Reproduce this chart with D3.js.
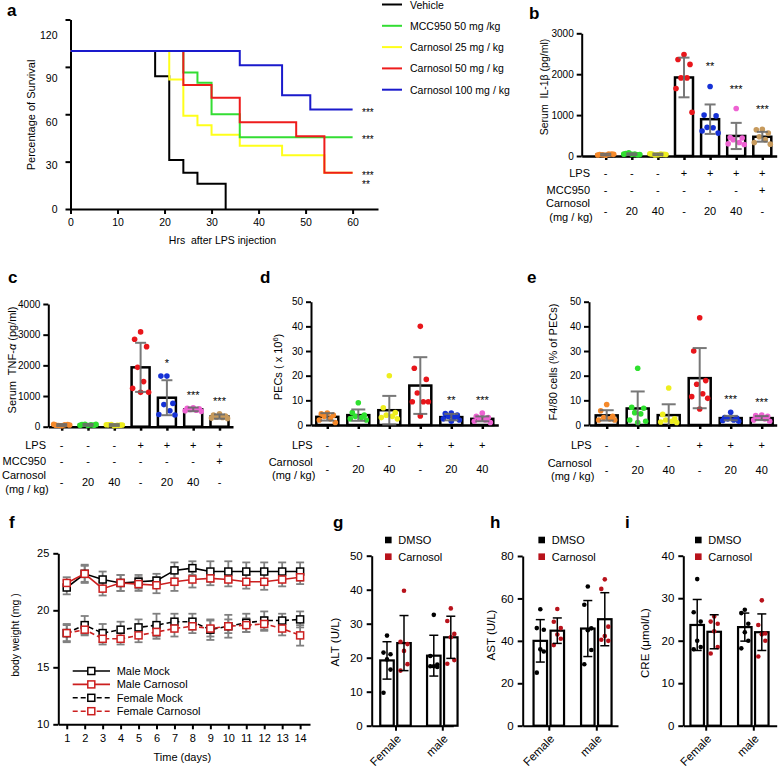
<!DOCTYPE html>
<html>
<head>
<meta charset="utf-8">
<script src="https://cdn.jsdelivr.net/npm/d3@7"></script>
<style>
  body { margin: 0; background: #fff; }
  svg { display: block; font-family: Arial, "Liberation Sans", Helvetica, sans-serif; }
  text { white-space: pre; fill: #000; }
</style>
</head>
<body>
<svg id="fig" width="778" height="772"></svg>
<script>
// ---------- panel a : survival ----------
var aNames = ["Vehicle", "MCC950 50 mg /kg", "Carnosol 25 mg / kg", "Carnosol 50 mg / kg", "Carnosol 100 mg / kg"];
var aColors = ["#000000", "#33dd33", "#ffff1a", "#ee1c1c", "#1a1acc"];
var aTimes = [
  [0, 18, 21, 24, 27, 33],
  [0, 24, 27, 30, 36, 60],
  [0, 21, 24, 27, 30, 36, 45, 54, 60],
  [0, 24, 30, 36, 48, 54, 60],
  [0, 36, 45, 51, 60]
];
var aSurvival = [
  [100, 84, 31, 23, 16, 0],
  [100, 86.5, 80, 60, 45.5, 45.5],
  [100, 82, 59, 53, 47, 40, 34, 23, 23],
  [100, 78.5, 70.5, 55, 46, 23, 23],
  [100, 91, 72, 63, 63]
];
var aStars = ["", "***", "**", "***", "***"];
var aTicksX = [0, 10, 20, 30, 40, 50, 60];
var aTicksY = [0, 30, 60, 90, 120];

// ---------- panels b-e : bars with dots ----------
var groupColors = ["#f5892a", "#2fe02f", "#eeee1e", "#e8161b", "#1531d6", "#ee62d2", "#c79a5c"];

var bMeans = [35, 45, 40, 1920, 900, 490, 470];
var bSd = [20, 20, 20, 485, 360, 320, 120];
var bPoints = [
  [20, 35, 50, 30, 45, 25, 40],
  [40, 60, 30, 80, 50, 45, 35],
  [30, 50, 40, 25, 45, 55, 35],
  [2480, 2360, 2240, 1910, 1910, 1650, 1070],
  [1700, 1000, 980, 700, 690, 610, 560],
  [1160, 450, 440, 400, 330, 300, 280],
  [650, 640, 560, 470, 400, 330, 290]
];
var bStars = ["", "", "", "", "**", "***", "***"];
var bTicks = [0, 1000, 2000, 3000];

var cMeans = [55, 60, 55, 1935, 945, 565, 330];
var cSd = [30, 30, 30, 800, 570, 60, 70];
var cPoints = [
  [30, 50, 70, 40, 60, 80, 55],
  [40, 70, 50, 80, 60, 45, 75],
  [30, 60, 50, 70, 45, 65, 55],
  [3090, 2850, 2610, 1935, 1470, 1250, 1120, 1120],
  [1650, 1650, 760, 720, 520, 400, 380],
  [620, 600, 580, 560, 540, 520, 500],
  [420, 380, 350, 320, 300, 280, 270]
];
var cStars = ["", "", "", "", "*", "***", "***"];
var cTicks = [0, 1000, 2000, 3000, 4000];

var rowLPS7 = ["-", "-", "-", "+", "+", "+", "+"];
var rowMCC7 = ["-", "-", "-", "-", "-", "-", "+"];
var rowCarn7 = ["-", "20", "40", "-", "20", "40", "-"];

var dMeans = [3.3, 4.0, 6.0, 16.0, 3.2, 2.5];
var dSd = [1.5, 2.3, 5.8, 11.5, 1.3, 1.0];
var dPoints = [
  [4.8, 4.5, 4, 3.5, 2.5, 2, 1],
  [9, 5, 4, 3.5, 3, 2.5, 2],
  [20, 7, 5, 4, 3.5, 3, 2.5],
  [40, 23, 18.5, 13, 9.4, 9.4, 9.4, 3.7],
  [4.8, 4.6, 4, 3.5, 3, 2.5, 2, 1.5],
  [4.8, 3.5, 3, 2.5, 2, 1.5, 1]
];
var dStars = ["", "", "", "", "**", "***"];

var eMeans = [3.9, 6.7, 4.0, 19.0, 2.8, 2.8];
var eSd = [2.1, 6.9, 4.4, 12.2, 0.9, 0.8];
var ePoints = [
  [8.3, 5.8, 3.5, 3, 2.5, 2, 2],
  [23, 7.2, 6.8, 5, 4.5, 2, 1.5, 1],
  [15, 4.3, 2.5, 2, 1.5, 1.2, 1],
  [43.5, 30, 18, 16.5, 12.7, 11.5, 10.8, 6.5],
  [5.2, 3, 2.8, 2.5, 2, 1.8, 1.5],
  [4, 3.8, 3.5, 3, 2.5, 2, 1.5]
];
var eStars = ["", "", "", "", "***", "***"];
var deTicks = [0, 10, 20, 30, 40, 50];

var rowLPS6 = ["-", "-", "-", "+", "+", "+"];
var rowCarn6 = ["-", "20", "40", "-", "20", "40"];

// ---------- panel f : body weight ----------
var fDays = [1, 2, 3, 4, 5, 6, 7, 8, 9, 10, 11, 12, 13, 14];
var fNames = ["Male Mock", "Male Carnosol", "Female Mock", "Female Carnosol"];
var fMaleMock = [22.0, 23.2, 22.7, 22.4, 22.5, 22.6, 23.5, 23.7, 23.4, 23.4, 23.4, 23.4, 23.4, 23.4];
var fMaleCarn = [22.4, 23.2, 21.9, 22.4, 22.3, 22.2, 22.5, 22.7, 22.8, 22.7, 22.5, 22.5, 22.7, 22.9];
var fFemMock = [18.0, 18.7, 18.0, 18.3, 18.5, 18.7, 19.0, 19.0, 18.3, 18.6, 18.9, 19.1, 19.1, 19.2];
var fFemCarn = [18.0, 18.3, 17.5, 17.5, 17.8, 18.1, 18.4, 18.6, 18.4, 18.6, 18.7, 18.8, 18.4, 17.8];
var fMaleMockSd = [0.6, 0.8, 0.7, 0.7, 0.6, 0.6, 0.7, 0.6, 0.9, 0.9, 0.8, 0.8, 0.8, 0.8];
var fMaleCarnSd = [0.5, 0.7, 0.6, 0.7, 0.6, 0.7, 0.8, 0.7, 0.6, 0.6, 0.6, 0.7, 0.6, 0.6];
var fFemMockSd = [0.8, 0.8, 0.8, 0.7, 0.7, 1.0, 0.7, 0.7, 0.9, 1.0, 0.8, 0.8, 0.6, 0.7];
var fFemCarnSd = [0.7, 0.5, 0.5, 0.5, 0.6, 0.6, 0.7, 0.6, 0.7, 0.6, 0.6, 0.6, 0.6, 0.9];
var fTicksY = [10, 15, 20, 25];

// ---------- panels g-i : DMSO vs Carnosol (Female DMSO, Female Carn, male DMSO, male Carn) ----------
var sexes = ["Female", "male"];
var treatNames = ["DMSO", "Carnosol"];
var gMeans = [19.2, 24.3, 20.6, 26.0];
var gSd = [5.5, 8.1, 6.0, 6.2];
var gPoints = [
  [26.5, 21.5, 21, 19.5, 16.5, 9.7],
  [39.7, 24.7, 24, 22, 18.1, 16.2],
  [32.6, 20.5, 18, 17.5, 17.3, 17.5],
  [34.5, 30.8, 27, 26, 19.3, 18.2]
];
var hMeans = [40.0, 44.8, 45.8, 50.2];
var hSd = [10.0, 6.0, 13.2, 12.5];
var hPoints = [
  [54.9, 46, 45.2, 36, 35, 25],
  [55, 49, 46, 43, 41, 38],
  [65.6, 57, 45.9, 45, 35.7, 29],
  [69, 64.5, 46.7, 42.3, 40, 40.5]
];
var iMeans = [23.7, 22.1, 23.2, 22.0];
var iSd = [6.0, 4.0, 3.3, 4.3];
var iPoints = [
  [34.5, 26.7, 24.5, 20, 18.5, 18],
  [25.7, 24.5, 24, 22.2, 18.5, 17],
  [27.3, 26.5, 24, 22, 20, 18.2],
  [29.5, 23.7, 21.7, 21.5, 20, 16.3]
];

var svg = d3.select("#fig");
var FONT = "Arial, 'Liberation Sans', Helvetica, sans-serif";
var RED = "#b8121b";
var plain = d3.format("d");
// fixed horizontal spread of dots inside a bar
var spread = [0, -6, 6, -3, 3, -8, 8, 0];
var spreadSmall = [0, -3.5, 3.5, 0, 3.5, -3.5];

function styleAxis(ax, size, width) {
  ax.attr("font-family", FONT).attr("font-size", size);
  ax.select(".domain").attr("stroke", "#000").attr("stroke-width", width);
  ax.selectAll(".tick line").attr("stroke", "#000").attr("stroke-width", width);
  ax.selectAll(".tick text").attr("fill", "#000");
}

function vLabel(g, x, y, size) {
  return g.append("text").attr("transform", "translate(" + x + "," + y + ") rotate(-90)")
    .attr("text-anchor", "middle").attr("font-size", size);
}

// panel letters
var letters = ["a", "b", "c", "d", "e", "f", "g", "h", "i"];
var letterXY = [[7, 16], [529, 19], [8, 283], [260, 283], [527, 283], [9, 528], [333, 528], [490, 528], [625, 528]];
svg.selectAll("text.letter").data(letters).enter().append("text")
  .attr("class", "letter")
  .attr("x", (d, i) => letterXY[i][0]).attr("y", (d, i) => letterXY[i][1])
  .attr("font-size", 17).attr("font-weight", "bold").text(d => d);

// ================= panel a =================
(function () {
  var g = svg.append("g");
  var x = d3.scaleLinear().domain([0, 65.4]).range([70.5, 378]);
  var y = d3.scaleLinear().domain([0, 120]).range([209, 19.5]);
  // the source prints its y labels slightly off the tick grid
  var yLab = d3.scaleLinear().domain([0, 120]).range([209, 35]);

  var ax = g.append("g").attr("transform", "translate(0,209)")
    .call(d3.axisBottom(x).tickValues(aTicksX).tickSize(5).tickPadding(5).tickSizeOuter(0));
  styleAxis(ax, 10.5, 2);
  var ay = g.append("g").attr("transform", "translate(70.5,0)")
    .call(d3.axisLeft(y).tickValues(aTicksY).tickSize(5).tickPadding(8).tickSizeOuter(0));
  styleAxis(ay, 10.5, 2);
  ay.selectAll(".tick text").attr("y", d => yLab(d) - y(d));

  var line = d3.line().x(d => x(d[0])).y(d => y(d[1])).curve(d3.curveStepAfter);
  [0, 2, 1, 3, 4].forEach(function (i) {
    var pts = aTimes[i].map((t, j) => [t, aSurvival[i][j]]);
    g.append("path").attr("d", line(pts)).attr("fill", "none")
      .attr("stroke", aColors[i]).attr("stroke-width", 2);
  });

  // significance marks at the end of each curve
  var order = d3.range(aStars.length).filter(i => aStars[i])
    .sort((p, q) => d3.descending(aSurvival[p][aSurvival[p].length - 1], aSurvival[q][aSurvival[q].length - 1]) ||
      d3.descending(aStars[p].length, aStars[q].length));
  var prevY = -100;
  order.forEach(function (i) {
    var s = aSurvival[i];
    var yy = y(s[s.length - 1]) + 6;
    if (yy - prevY < 8) yy = prevY + 9.5;
    prevY = yy;
    g.append("text").attr("x", 362).attr("y", yy).attr("font-size", 10).text(aStars[i]);
  });

  vLabel(g, 35, 115, 11).text("Percentage of Survival");
  g.append("text").attr("x", 222.5).attr("y", 244).attr("text-anchor", "middle")
    .attr("font-size", 10.5).text("Hrs  after LPS injection");

  var leg = g.append("g");
  aNames.forEach(function (name, i) {
    var yy = 4.5 + 21.3 * i;
    leg.append("line").attr("x1", 382).attr("x2", 402).attr("y1", yy).attr("y2", yy)
      .attr("stroke", aColors[i]).attr("stroke-width", 2);
    leg.append("text").attr("x", 410).attr("y", yy + 4).attr("font-size", 10.5).text(name);
  });
})();

// ================= panels b-e =================
function barPanel(p) {
  var g = svg.append("g");
  var idx = d3.range(p.means.length);
  var x = d3.scaleLinear()
    .domain([(p.ax0 - p.first) / p.step, (p.ax1 - p.first) / p.step])
    .range([p.ax0, p.ax1]);
  var y = d3.scaleLinear().domain([0, p.yMax]).range([p.yBase, p.yTop]);

  var ay = g.append("g").attr("transform", "translate(" + p.ax0 + ",0)")
    .call(d3.axisLeft(y).tickValues(p.ticks).tickFormat(plain).tickSize(5).tickPadding(3).tickSizeOuter(0));
  styleAxis(ay, 10, 2);
  var ax = g.append("g").attr("transform", "translate(0," + p.yBase + ")")
    .call(d3.axisBottom(x).tickValues(idx).tickFormat("").tickSize(4).tickSizeOuter(0));
  styleAxis(ax, 10, 2.5);

  g.selectAll("rect.bar").data(idx).enter().append("rect")
    .attr("class", "bar")
    .attr("x", i => x(i) - p.bw / 2).attr("y", i => y(p.means[i]))
    .attr("width", p.bw).attr("height", i => y(0) - y(p.means[i]))
    .attr("fill", "#fff").attr("stroke", "#000").attr("stroke-width", 2.5);

  idx.forEach(function (i) {
    g.selectAll(null).data(p.points[i]).enter().append("circle")
      .attr("cx", (v, j) => x(i) + spread[j % spread.length])
      .attr("cy", v => y(v)).attr("r", 2.8).attr("fill", groupColors[i]);
  });

  idx.forEach(function (i) {
    var lo = Math.max(0, p.means[i] - p.sd[i]), hi = p.means[i] + p.sd[i];
    var eb = g.append("g").attr("stroke", "#6a6a6a").attr("stroke-width", 2).attr("opacity", 0.9);
    eb.append("line").attr("x1", x(i)).attr("x2", x(i)).attr("y1", y(lo)).attr("y2", y(hi));
    eb.append("line").attr("x1", x(i) - p.cap / 2).attr("x2", x(i) + p.cap / 2).attr("y1", y(hi)).attr("y2", y(hi));
    if (lo > 0) eb.append("line").attr("x1", x(i) - p.cap / 2).attr("x2", x(i) + p.cap / 2).attr("y1", y(lo)).attr("y2", y(lo));
    if (p.stars[i]) {
      g.append("text").attr("x", x(i)).attr("y", y(d3.max(p.points[i])) - p.starGap)
        .attr("text-anchor", "middle").attr("font-size", 11).text(p.stars[i]);
    }
  });

  // treatment table
  var t = g.append("g").attr("font-size", 11);
  p.rows.forEach(function (r) {
    if (typeof r.label === "string") {
      t.append("text").attr("x", p.labelRight).attr("y", r.y + 4).attr("text-anchor", "end").text(r.label);
    } else {
      t.append("text").attr("x", p.labelRight - 22).attr("y", r.ly[0] + 4).attr("text-anchor", "middle").text(r.label[0]);
      t.append("text").attr("x", p.labelRight - 19).attr("y", r.ly[1] + 4).attr("text-anchor", "middle").text(r.label[1]);
    }
    r.cells.forEach(function (c, i) {
      t.append("text").attr("x", x(i)).attr("y", r.y + 4).attr("text-anchor", "middle").text(c);
    });
  });

  var lab = vLabel(g, p.labX + 3.5, p.labY, p.labSize);
  p.label(lab);
}

barPanel({
  means: bMeans, sd: bSd, points: bPoints, stars: bStars, ticks: bTicks, yMax: 3000,
  ax0: 581.7, ax1: 776.7, first: 605.7, step: 26.1, yBase: 156, yTop: 33.3, bw: 18, cap: 11, starGap: 16,
  labelRight: 590, labX: 544, labY: 87, labSize: 10.5,
  rows: [{ label: "LPS", cells: rowLPS7, y: 173.3 }, { label: "MCC950", cells: rowMCC7, y: 190 },
    { label: ["Carnosol", "(mg / kg)"], ly: [203.3, 216.7], cells: rowCarn7, y: 211 }],
  label: function (s) { s.text("Serum  IL-1\u03b2 (pg/ml)"); }
});

barPanel({
  means: cMeans, sd: cSd, points: cPoints, stars: cStars, ticks: cTicks, yMax: 4000,
  ax0: 48.3, ax1: 233, first: 61.7, step: 26.3, yBase: 426.7, yTop: 304, bw: 18, cap: 11, starGap: 9,
  labelRight: 46, labX: 12, labY: 360, labSize: 11,
  rows: [{ label: "LPS", cells: rowLPS7, y: 445 }, { label: "MCC950", cells: rowMCC7, y: 461 },
    { label: ["Carnosol", "(mg / kg)"], ly: [475, 489.3], cells: rowCarn7, y: 482.3 }],
  label: function (s) {
    s.append("tspan").text("Serum  TNF-");
    s.append("tspan").attr("font-style", "italic").text("\u03b1");
    s.append("tspan").text(" (pg/ml)");
  }
});

barPanel({
  means: dMeans, sd: dSd, points: dPoints, stars: dStars, ticks: deTicks, yMax: 50,
  ax0: 311, ax1: 498.3, first: 327.3, step: 31, yBase: 425, yTop: 301.7, bw: 22, cap: 14, starGap: 9,
  labelRight: 312.7, labX: 278, labY: 367, labSize: 11,
  rows: [{ label: "LPS", cells: rowLPS6, y: 445 },
    { label: ["Carnosol", "(mg / kg)"], ly: [462.3, 475], cells: rowCarn6, y: 469 }],
  label: function (s) {
    s.append("tspan").text("PECs ( x 10");
    s.append("tspan").attr("dy", -4).attr("font-size", 7.5).text("6");
    s.append("tspan").attr("dy", 4).text(")");
  }
});

barPanel({
  means: eMeans, sd: eSd, points: ePoints, stars: eStars, ticks: deTicks, yMax: 50,
  ax0: 589, ax1: 776.7, first: 606.7, step: 31, yBase: 425, yTop: 301.7, bw: 22, cap: 14, starGap: 9,
  labelRight: 591.7, labX: 553, labY: 362, labSize: 11,
  rows: [{ label: "LPS", cells: rowLPS6, y: 445 },
    { label: ["Carnosol", "(mg / kg)"], ly: [462.7, 475.7], cells: rowCarn6, y: 470 }],
  label: function (s) { s.text("F4/80 cells (% of PECs)"); }
});

// ================= panel f =================
(function () {
  var g = svg.append("g");
  var x = d3.scaleLinear().domain([0.53, 14.55]).range([58.3, 310]);
  var y = d3.scaleLinear().domain([10, 25]).range([724.3, 553.3]);

  var ax = g.append("g").attr("transform", "translate(0,724.3)")
    .call(d3.axisBottom(x).tickValues(fDays).tickSize(5).tickPadding(5).tickSizeOuter(0));
  styleAxis(ax, 11, 2);
  var ay = g.append("g").attr("transform", "translate(58.3,0)")
    .call(d3.axisLeft(y).tickValues(fTicksY).tickSize(5).tickPadding(4).tickSizeOuter(0));
  styleAxis(ay, 11, 2);

  var series = [
    { v: fFemMock, e: fFemMockSd, color: "#000", dash: "5,3", name: fNames[2] },
    { v: fFemCarn, e: fFemCarnSd, color: "#cc1f1f", dash: "5,3", name: fNames[3] },
    { v: fMaleMock, e: fMaleMockSd, color: "#000", dash: null, name: fNames[0] },
    { v: fMaleCarn, e: fMaleCarnSd, color: "#cc1f1f", dash: null, name: fNames[1] }
  ];
  var eg = g.append("g").attr("stroke", "#808080").attr("stroke-width", 1.8);
  series.forEach(function (s) {
    s.v.forEach(function (v, j) {
      var cx = x(fDays[j]);
      eg.append("line").attr("x1", cx).attr("x2", cx).attr("y1", y(v - s.e[j])).attr("y2", y(v + s.e[j]));
      eg.append("line").attr("x1", cx - 4).attr("x2", cx + 4).attr("y1", y(v - s.e[j])).attr("y2", y(v - s.e[j]));
      eg.append("line").attr("x1", cx - 4).attr("x2", cx + 4).attr("y1", y(v + s.e[j])).attr("y2", y(v + s.e[j]));
    });
  });
  var line = d3.line().x((v, j) => x(fDays[j])).y(v => y(v));
  series.forEach(function (s) {
    g.append("path").attr("d", line(s.v)).attr("fill", "none").attr("stroke", s.color)
      .attr("stroke-width", 1.6).attr("stroke-dasharray", s.dash);
    g.selectAll(null).data(s.v).enter().append("rect")
      .attr("x", (v, j) => x(fDays[j]) - 3.5).attr("y", v => y(v) - 3.5)
      .attr("width", 7).attr("height", 7).attr("fill", "#fff")
      .attr("stroke", s.color).attr("stroke-width", 1.5);
  });

  vLabel(g, 18.5, 635, 10.5).text("body weight (mg )");
  g.append("text").attr("x", 182.3).attr("y", 761).attr("text-anchor", "middle")
    .attr("font-size", 11).text("Time (days)");

  var legOrder = [2, 3, 0, 1];
  legOrder.forEach(function (k, r) {
    var s = series[k];
    var yy = 671 + 13.4 * r;
    g.append("line").attr("x1", 72.7).attr("x2", 110).attr("y1", yy).attr("y2", yy)
      .attr("stroke", s.color).attr("stroke-width", 1.6).attr("stroke-dasharray", s.dash);
    g.append("rect").attr("x", 91.3 - 3.5).attr("y", yy - 3.5).attr("width", 7).attr("height", 7)
      .attr("fill", "#fff").attr("stroke", s.color).attr("stroke-width", 1.5);
    g.append("text").attr("x", 116.7).attr("y", yy + 4).attr("font-size", 11).text(s.name);
  });
})();

// ================= panels g-i =================
function groupPanel(p) {
  var g = svg.append("g");
  var span = p.g1 - p.g0;
  var x = d3.scaleLinear().domain([(p.ax0 - p.g0) / span, (p.ax1 - p.g0) / span]).range([p.ax0, p.ax1]);
  var y = d3.scaleLinear().domain([0, p.yMax]).range([725.7, p.yTop]);
  var barX = k => x(Math.floor(k / 2)) + (k % 2 ? p.off : -p.off);
  var ks = d3.range(p.means.length);

  var ay = g.append("g").attr("transform", "translate(" + p.ax0 + ",0)")
    .call(d3.axisLeft(y).tickValues(p.ticks).tickSize(5).tickPadding(4).tickSizeOuter(0));
  styleAxis(ay, 11.5, 2);
  var ax = g.append("g").attr("transform", "translate(0,725.7)")
    .call(d3.axisBottom(x).tickValues([0, 1]).tickFormat(i => sexes[i]).tickSize(5).tickSizeOuter(0));
  styleAxis(ax, 11.5, 2);
  ax.selectAll(".tick text").attr("x", 0).attr("y", 0).attr("dy", "0.35em")
    .attr("text-anchor", "end").attr("transform", "translate(3,11) rotate(-45)");

  g.selectAll("rect.bar").data(ks).enter().append("rect")
    .attr("x", k => barX(k) - p.bw / 2).attr("y", k => y(p.means[k]))
    .attr("width", p.bw).attr("height", k => y(0) - y(p.means[k]))
    .attr("fill", "#fff").attr("stroke", "#000").attr("stroke-width", 2.2);

  ks.forEach(function (k) {
    g.selectAll(null).data(p.points[k]).enter().append("circle")
      .attr("cx", (v, j) => barX(k) + spreadSmall[j % spreadSmall.length])
      .attr("cy", v => y(v)).attr("r", 2.3).attr("fill", k % 2 ? RED : "#000");
  });
  ks.forEach(function (k) {
    var lo = p.means[k] - p.sd[k], hi = p.means[k] + p.sd[k], cx = barX(k);
    var eb = g.append("g").attr("stroke", "#000").attr("stroke-width", 1.5);
    eb.append("line").attr("x1", cx).attr("x2", cx).attr("y1", y(lo)).attr("y2", y(hi));
    [lo, hi].forEach(function (v) {
      eb.append("line").attr("x1", cx - 4.5).attr("x2", cx + 4.5).attr("y1", y(v)).attr("y2", y(v));
    });
  });

  treatNames.forEach(function (name, r) {
    var yy = 540 + 16.7 * r;
    g.append("rect").attr("x", p.legX - 3.3).attr("y", yy - 3.3).attr("width", 6.6).attr("height", 6.6)
      .attr("fill", r ? RED : "#000");
    g.append("text").attr("x", p.legX + 10).attr("y", yy + 4).attr("font-size", 11).text(name);
  });

  vLabel(g, p.labX + 4, p.labY, 11.5).text(p.label);
}

groupPanel({ means: gMeans, sd: gSd, points: gPoints, yMax: 50, yTop: 555.7, ticks: [0, 10, 20, 30, 40, 50],
  ax0: 371.7, ax1: 453.3, g0: 395.5, g1: 442.3, off: 8.5, bw: 13.5, legX: 388.3,
  labX: 335, labY: 642, label: "ALT (U/L)" });
groupPanel({ means: hMeans, sd: hSd, points: hPoints, yMax: 80, yTop: 556, ticks: [0, 20, 40, 60, 80],
  ax0: 522.7, ax1: 618, g0: 548.8, g1: 596.3, off: 8.5, bw: 13.5, legX: 541.7,
  labX: 491, labY: 635, label: "AST (U/L)" });
groupPanel({ means: iMeans, sd: iSd, points: iPoints, yMax: 40, yTop: 555.7, ticks: [0, 10, 20, 30, 40],
  ax0: 683.3, ax1: 776.7, g0: 705.7, g1: 753.3, off: 8.5, bw: 13.5, legX: 698.3,
  labX: 645, labY: 643, label: "CRE (\u03bcmol/L)" });
</script>
</body>
</html>
